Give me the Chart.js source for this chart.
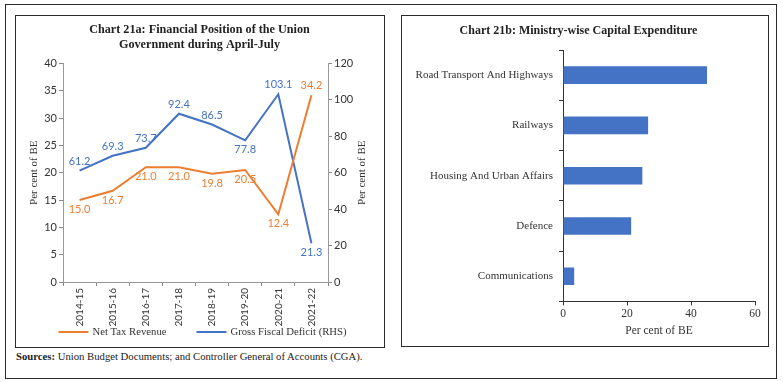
<!DOCTYPE html>
<html>
<head>
<meta charset="utf-8">
<script src="https://cdn.jsdelivr.net/npm/chart.js@4.4.1/dist/chart.umd.min.js"></script>
<style>
  html, body { margin: 0; padding: 0; background: #fff; }
  body { width: 784px; height: 382px; position: relative; overflow: hidden; }
  .frame { position: absolute; border: 1px solid #2b2b2b; box-sizing: border-box; }
  #outer { left: 5px; top: 4px; width: 772px; height: 375px; }
  #boxA { left: 15px; top: 15px; width: 370px; height: 333px; }
  #boxB { left: 401px; top: 15px; width: 368px; height: 332px; }
  .cv { position: absolute; }
  #cA { left: 16px; top: 16px; }
  #cB { left: 402px; top: 16px; }
  #src { position: absolute; left: 16px; top: 350px; font: 10.7px "Liberation Serif", serif; color: #222; }
  #src b { font-weight: bold; }
</style>
</head>
<body>
<div class="frame" id="outer"></div>
<div class="frame" id="boxA"></div>
<div class="frame" id="boxB"></div>
<div class="cv" id="cA"><canvas id="chartA" width="367" height="331"></canvas></div>
<div class="cv" id="cB"><canvas id="chartB" width="365" height="329"></canvas></div>
<div id="src"><b>Sources:</b> Union Budget Documents; and Controller General of Accounts (CGA).</div>
<script>
// ---------- Data ----------
const yearsA = ['2014-15','2015-16','2016-17','2017-18','2018-19','2019-20','2020-21','2021-22'];
const netTaxRevenue = [15.0, 16.7, 21.0, 21.0, 19.8, 20.5, 12.4, 34.2];
const grossFiscalDeficit = [61.2, 69.3, 73.7, 92.4, 86.5, 77.8, 103.1, 21.3];
const leftTicks = [0, 5, 10, 15, 20, 25, 30, 35, 40];
const rightTicks = [0, 20, 40, 60, 80, 100, 120];

const ministries = ['Road Transport And Highways','Railways','Housing And Urban Affairs','Defence','Communications'];
const capexShare = [45.0, 26.6, 24.8, 21.3, 3.5];
const bottomTicksB = [0, 20, 40, 60];

// label placement style (not data)
const sideNTR = ['below','below','below','below','below','below','below','above'];
const sideGFD = ['above','above','above','above','above','below','above','below'];

const ORANGE = '#ED7D31';
const BLUE = '#4472C4';
const SERIF = '"Liberation Serif", "Times New Roman", serif';
const SANS = 'Lato, "Open Sans", sans-serif';

Chart.defaults.animation = false;
Chart.defaults.responsive = false;

const pointLabels = {
  id: 'pointLabels',
  afterDatasetsDraw(chart) {
    const ctx = chart.ctx;
    ctx.save();
    ctx.font = '11px ' + SANS;
    ctx.textAlign = 'center';
    ctx.textBaseline = 'middle';
    chart.data.datasets.forEach((ds, di) => {
      const meta = chart.getDatasetMeta(di);
      meta.data.forEach((pt, i) => {
        const side = ds.labelSides[i];
        const y = side === 'above' ? pt.y - 9.5 : pt.y + 9.5;
        ctx.fillStyle = ds.borderColor;
        ctx.fillText(ds.data[i].toFixed(1), pt.x, y);
      });
    });
    ctx.restore();
  }
};

const rightTitle = {
  id: 'rightTitle',
  afterDraw(chart) {
    const s = chart.scales.y1;
    const ctx = chart.ctx;
    ctx.save();
    ctx.font = '11px ' + SERIF;
    ctx.fillStyle = '#333';
    ctx.textAlign = 'center';
    ctx.textBaseline = 'middle';
    ctx.translate(s.right - 21, (s.top + s.bottom) / 2);
    ctx.rotate(-Math.PI / 2);
    ctx.fillText('Per cent of BE', 0, 0);
    ctx.restore();
  }
};

// Legend drawn from the datasets (line swatch + label), centred under the chart
const lineLegend = {
  id: 'lineLegend',
  afterDraw(chart) {
    const ctx = chart.ctx;
    const swatch = 30, textGap = 4, itemGap = 30;
    ctx.save();
    ctx.font = '10.7px ' + SERIF;
    const items = chart.data.datasets.map(ds => ({ ds, w: swatch + textGap + ctx.measureText(ds.label).width }));
    const total = items.reduce((a, it) => a + it.w, 0) + itemGap * (items.length - 1);
    let x = chart.width / 2 + 3 - total / 2;
    const y = chart.chartArea.bottom + 50;
    ctx.textBaseline = 'middle';
    ctx.textAlign = 'left';
    items.forEach(it => {
      ctx.strokeStyle = it.ds.borderColor;
      ctx.lineWidth = 2;
      ctx.beginPath();
      ctx.moveTo(x, y);
      ctx.lineTo(x + swatch, y);
      ctx.stroke();
      ctx.fillStyle = '#333';
      ctx.fillText(it.ds.label, x + swatch + textGap, y + 0.5);
      x += it.w + itemGap;
    });
    ctx.restore();
  }
};

new Chart(document.getElementById('chartA'), {
  type: 'line',
  data: {
    labels: yearsA,
    datasets: [
      { label: 'Net Tax Revenue', data: netTaxRevenue, borderColor: ORANGE, backgroundColor: ORANGE,
        borderWidth: 2, pointRadius: 0, tension: 0, yAxisID: 'y', labelSides: sideNTR },
      { label: 'Gross Fiscal Deficit (RHS)', data: grossFiscalDeficit, borderColor: BLUE, backgroundColor: BLUE,
        borderWidth: 2, pointRadius: 0, tension: 0, yAxisID: 'y1', labelSides: sideGFD }
    ]
  },
  options: {
    layout: { padding: { left: 0, right: 0, top: 0, bottom: 21 } },
    plugins: {
      title: { display: true, text: ['Chart 21a: Financial Position of the Union', 'Government during April-July'],
        font: { family: SERIF, size: 12.2, weight: 'bold', lineHeight: 1.25 }, color: '#222',
        padding: { top: 6, bottom: 11 } },
      legend: { display: false },
      tooltip: { enabled: false }
    },
    scales: {
      x: {
        offset: true,
        grid: { display: true, drawOnChartArea: false, offset: true, tickLength: 4, color: '#888' },
        border: { color: '#999' },
        ticks: { minRotation: 90, maxRotation: 90, font: { family: SANS, size: 10 }, color: '#333', padding: 2 },
        afterFit(scale) { scale.height = 44; }
      },
      y: {
        position: 'left', min: 0, max: 40,
        afterBuildTicks(scale) { scale.ticks = leftTicks.map(v => ({ value: v })); },
        grid: { drawOnChartArea: false, tickLength: 4, color: '#888' },
        border: { color: '#999' },
        ticks: { font: { family: SANS, size: 11 }, color: '#333', padding: 2 },
        title: { display: true, text: 'Per cent of BE', font: { family: SERIF, size: 11 }, color: '#333', padding: { top: 12, bottom: 0 } },
        afterFit(scale) { scale.width = 47; }
      },
      y1: {
        position: 'right', min: 0, max: 120,
        afterBuildTicks(scale) { scale.ticks = rightTicks.map(v => ({ value: v })); },
        grid: { drawOnChartArea: false, tickLength: 4, color: '#888' },
        border: { color: '#999' },
        ticks: { font: { family: SANS, size: 11 }, color: '#333', padding: 2 },
        afterFit(scale) { scale.width = 55; }
      }
    }
  },
  plugins: [pointLabels, rightTitle, lineLegend]
});

new Chart(document.getElementById('chartB'), {
  type: 'bar',
  data: {
    labels: ministries,
    datasets: [{ label: 'Per cent of BE', data: capexShare, backgroundColor: BLUE, borderWidth: 0,
      barPercentage: 0.35, categoryPercentage: 1 }]
  },
  options: {
    indexAxis: 'y',
    layout: { padding: { left: 0, right: 12, top: 0, bottom: 7 } },
    plugins: {
      title: { display: true, text: 'Chart 21b: Ministry-wise Capital Expenditure',
        font: { family: SERIF, size: 12, weight: 'bold', lineHeight: 1.25 }, color: '#222',
        padding: { top: 7, bottom: 12 } },
      legend: { display: false },
      tooltip: { enabled: false }
    },
    scales: {
      x: {
        min: 0, max: 60,
        afterBuildTicks(scale) { scale.ticks = bottomTicksB.map(v => ({ value: v })); },
        grid: { drawOnChartArea: false, tickLength: 4, color: '#333' },
        border: { color: '#333' },
        ticks: { font: { family: SERIF, size: 11.5 }, color: '#333', padding: 2 },
        title: { display: true, text: 'Per cent of BE', font: { family: SERIF, size: 11.5 }, color: '#333', padding: { top: 1, bottom: 0 } }
      },
      y: {
        offset: true,
        grid: { drawOnChartArea: false, offset: true, tickLength: 4, color: '#333' },
        border: { color: '#333' },
        ticks: { font: { family: SERIF, size: 11 }, color: '#333', padding: 6 },
        afterFit(scale) { scale.width = 161; }
      }
    }
  }
});
</script>
</body>
</html>
